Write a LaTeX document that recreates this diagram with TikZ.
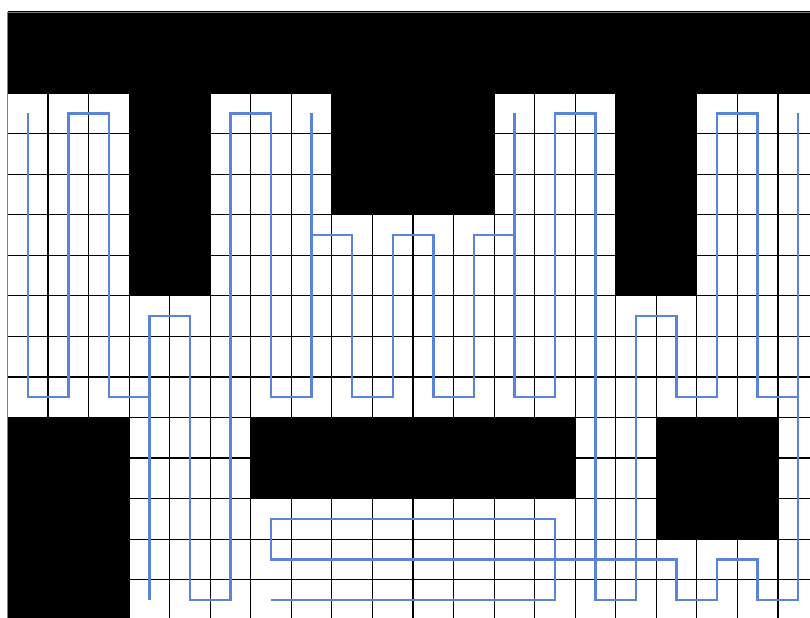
\documentclass[tikz,border=0pt]{standalone}
\usepackage{tikz}
\usepackage{xcolor}
\usetikzlibrary{calc}
\definecolor{routeblue}{RGB}{90,132,214}

\begin{document}
\begin{tikzpicture}[x=1cm, y=-1cm,
    gridline/.style={black, line width=0.8pt},
    blocked/.style={fill=black},
    route/.style={routeblue, line width=1.7pt, line join=miter}]
    \useasboundingbox (-0.185,-0.296) rectangle (19.79,14.92);
    \clip (-0.185,-0.296) rectangle (19.79,14.92);

    % Draw grid cells
    \foreach \c in {0,...,20} \draw[gridline] (\c,0) -- (\c,15);
    \foreach \r in {0,...,15} \draw[gridline] (0,\r) -- (20,\r);

    % Draw occupied cells
    \fill[blocked] (0,0) rectangle (20,2);
    \fill[blocked] (3,2) rectangle (5,7);
    \fill[blocked] (8,2) rectangle (12,5);
    \fill[blocked] (15,2) rectangle (17,7);
    \fill[blocked] (0,10) rectangle (3,15);
    \fill[blocked] (6,10) rectangle (14,12);
    \fill[blocked] (16,10) rectangle (19,13);
    \draw[gray, line width=0.6pt] (0,0) rectangle (20,15);

    % Draw coverage route through cell centres
    \begin{scope}[shift={(0.5,0.5)}]
        \draw[route] (0,2) -- (0,9) -- (1,9) -- (1,2) -- (2,2) -- (2,9) -- (3,9);
        \draw[route] (3,14) -- (3,7) -- (4,7) -- (4,14) -- (5,14) -- (5,2)
            -- (6,2) -- (6,9) -- (7,9) -- (7,2);
        \draw[route] (7,5) -- (8,5) -- (8,9) -- (9,9) -- (9,5) -- (10,5)
            -- (10,9) -- (11,9) -- (11,5) -- (12,5);
        \draw[route] (12,2) -- (12,9) -- (13,9) -- (13,2) -- (14,2) -- (14,14)
            -- (15,14) -- (15,7) -- (16,7) -- (16,9) -- (17,9) -- (17,2)
            -- (18,2) -- (18,9) -- (19,9);
        \draw[route] (19,2) -- (19,14) -- (18,14) -- (18,13) -- (17,13)
            -- (17,14) -- (16,14) -- (16,13) -- (6,13) -- (6,12) -- (13,12)
            -- (13,14) -- (6,14);
    \end{scope}
\end{tikzpicture}
\end{document}
